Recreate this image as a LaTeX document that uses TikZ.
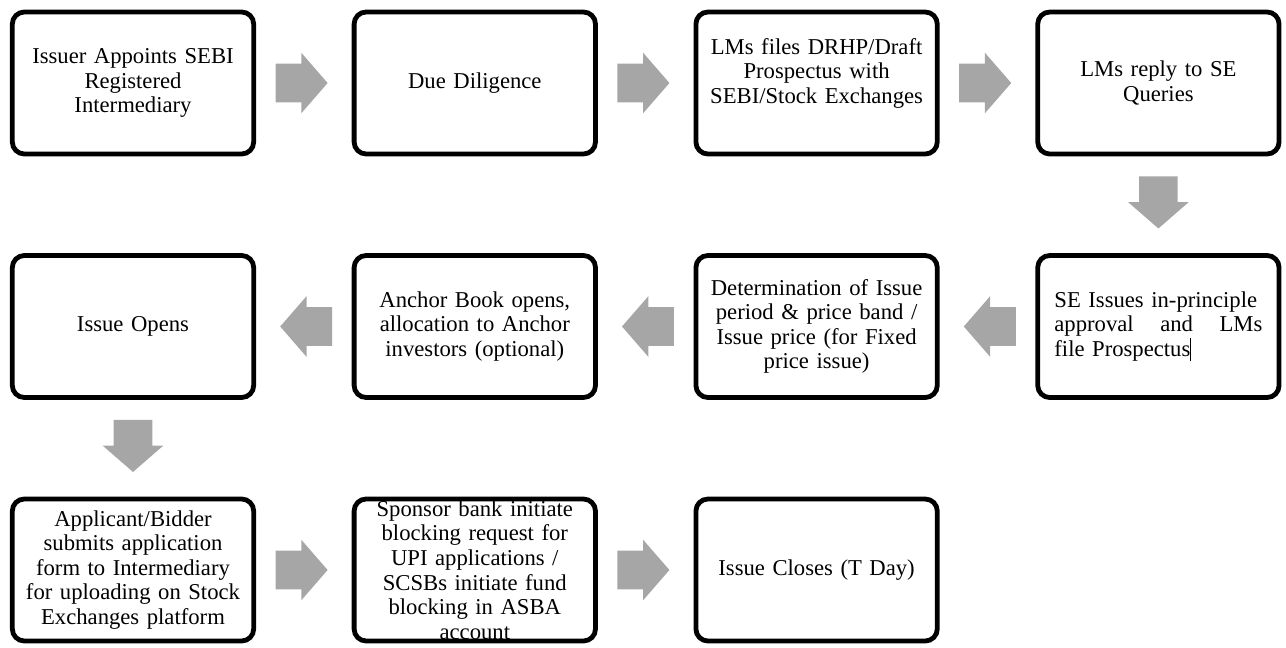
\documentclass[tikz,border=0pt]{standalone}
\usepackage{fontspec}
\setmainfont{Liberation Serif}
\usetikzlibrary{shapes.arrows}
\definecolor{arrowGrey}{RGB}{166,166,166}
\newcommand{\stepBox}[4]{%
  \node[boxStyle] (#1) at ({\xStart+#2*\xStep},{\yStart+#3*\yStep}) {#4};
}

\begin{document}
\begin{tikzpicture}[%
  x=0.75pt,y=-0.75pt,%
  boxStyle/.style={draw,line width=3.6pt,rounded corners=9pt,fill=white,minimum width=181pt,minimum height=106.5pt,text width=172pt,align=center,inner sep=0pt,font=\fontsize{17}{18.4}\selectfont},%
  arrowStyle/.style={single arrow,fill=arrowGrey,draw=none,minimum height=39pt,single arrow head extend=8.25pt,single arrow tip angle=98},%
  rightArrow/.style={arrowStyle,shape border rotate=0,inner xsep=0pt,inner ysep=14.25pt,xshift=-8pt},%
  leftArrow/.style={arrowStyle,shape border rotate=180,inner xsep=0pt,inner ysep=14.25pt,xshift=8pt},%
  downArrow/.style={arrowStyle,shape border rotate=270,inner xsep=14.25pt,inner ysep=0pt,yshift=8pt}%
]
%
\useasboundingbox (0,0) rectangle (1286,647);
%
\pgfmathsetmacro{\xStart}{133}
\pgfmathsetmacro{\xStep}{341.8}
\pgfmathsetmacro{\yStart}{83}
\pgfmathsetmacro{\yStep}{243.5}
%
% First row.
\stepBox{appoint}{0}{0}{Issuer Appoints SEBI\\Registered\\Intermediary}
\stepBox{diligence}{1}{0}{Due Diligence}
\stepBox{drhp}{2}{0}{LMs files DRHP/Draft\\Prospectus with\\SEBI/Stock Exchanges\\\mbox{}}
\stepBox{reply}{3}{0}{LMs reply to SE\\Queries}
% Second row.
\stepBox{approval}{3}{1}{\begin{minipage}{156pt}\raggedright SE Issues in-principle\\approval\hfill and\hfill LMs\\file Prospectus\rule[-0.2em]{0.6pt}{1em}\end{minipage}}
\stepBox{priceband}{2}{1}{Determination of Issue\\period \& price band /\\Issue price (for Fixed\\price issue)}
\stepBox{anchor}{1}{1}{Anchor Book opens,\\allocation to Anchor\\investors (optional)}
\stepBox{opens}{0}{1}{Issue Opens}
% Third row.
\stepBox{bidder}{0}{2}{Applicant/Bidder\\submits application\\form to Intermediary\\for uploading on Stock\\Exchanges platform}
\stepBox{blocking}{1}{2}{Sponsor bank initiate\\blocking request for\\UPI applications /\\SCSBs initiate fund\\blocking in ASBA\\account}
\stepBox{closes}{2}{2}{Issue Closes (T Day)}
%
% The block arrows.
\path (appoint) -- node[rightArrow] (a1) {} (diligence);
\path (diligence) -- node[rightArrow] (a2) {} (drhp);
\path (drhp) -- node[rightArrow] (a3) {} (reply);
\path (reply) -- node[downArrow] (a4) {} (approval);
\path (approval) -- node[leftArrow] (a5) {} (priceband);
\path (priceband) -- node[leftArrow] (a6) {} (anchor);
\path (anchor) -- node[leftArrow] (a7) {} (opens);
\path (opens) -- node[downArrow] (a8) {} (bidder);
\path (bidder) -- node[rightArrow] (a9) {} (blocking);
\path (blocking) -- node[rightArrow] (a10) {} (closes);
\end{tikzpicture}
\end{document}
